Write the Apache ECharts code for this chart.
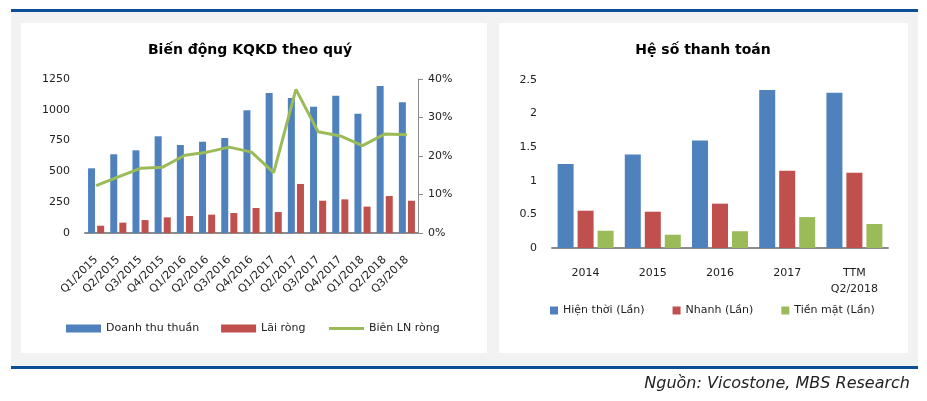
<!DOCTYPE html>
<html><head><meta charset="utf-8">
<script src="https://cdn.jsdelivr.net/npm/echarts@6/dist/echarts.min.js"></script>
<style>html,body{margin:0;padding:0;background:#fff}#c{width:927px;height:401px}</style>
</head><body><div id="c"></div>
<script>
const quarters = ['Q1/2015','Q2/2015','Q3/2015','Q4/2015','Q1/2016','Q2/2016','Q3/2016','Q4/2016','Q1/2017','Q2/2017','Q3/2017','Q4/2017','Q1/2018','Q2/2018','Q3/2018'];
const revenue = [525,639,671,785,714,741,771,996,1136,1096,1025,1115,968,1193,1061];
const netProfit = [59,84,105,127,138,149,162,203,170,398,262,273,214,300,262];
const netMargin = [0.123,0.146,0.168,0.171,0.202,0.210,0.223,0.210,0.157,0.373,0.263,0.252,0.227,0.257,0.255];
const years = ['2014','2015','2016','2017','TTM\nQ2/2018'];
const currentRatio = [1.25,1.39,1.60,2.35,2.31];
const quickRatio = [0.555,0.54,0.66,1.15,1.12];
const cashRatio = [0.257,0.198,0.25,0.46,0.357];
const leftTicks = [0,250,500,750,1000,1250];
const rightTicks = [0,0.1,0.2,0.3,0.4];

const BLUE='#4f81bd', RED='#c0504d', GREEN='#9bbb59', DARK='#0b4f97';
const FONT='DejaVu Sans';
const chart = echarts.init(document.getElementById('c'));
const axisTxt = {color:'#222', fontFamily:FONT, fontSize:11};
const legTxt = {fontFamily:FONT,fontSize:11,color:'#222'};
chart.setOption({
  animation:false,
  textStyle:{fontFamily:FONT},
  graphic:[
    {type:'rect', z:-10, shape:{x:11,y:12,width:907,height:354}, style:{fill:'#f2f2f2'}},
    {type:'rect', z:-9, shape:{x:21,y:23,width:466,height:330}, style:{fill:'#fff'}},
    {type:'rect', z:-9, shape:{x:499,y:23,width:409,height:330}, style:{fill:'#fff'}},
    {type:'rect', z:-8, shape:{x:11,y:9,width:907,height:3}, style:{fill:DARK}},
    {type:'rect', z:-8, shape:{x:11,y:366,width:907,height:3}, style:{fill:DARK}},
    {type:'text', z:5, right:17, top:376, style:{text:'Nguồn: Vicostone, MBS Research', font:'italic 16px "DejaVu Sans"', fill:'#222'}}
  ],
  title:[
    {text:'Biến động KQKD theo quý', left:245, top:38, textAlign:'center', textStyle:{fontFamily:FONT,fontWeight:'bold',fontSize:14,color:'#000'}},
    {text:'Hệ số thanh toán', left:698, top:38, textAlign:'center', textStyle:{fontFamily:FONT,fontWeight:'bold',fontSize:14,color:'#000'}}
  ],
  legend:[
    {left:66, top:323, padding:0, itemWidth:35, itemHeight:8, itemGap:22, textStyle:legTxt,
     data:[{name:'Doanh thu thuần',icon:'rect'},{name:'Lãi ròng',icon:'rect'}]},
    {left:329, top:323, padding:0, itemWidth:35, itemHeight:3, textStyle:legTxt,
     data:[{name:'Biên LN ròng',icon:'rect'}]},
    {left:550, top:305, padding:0, itemWidth:8, itemHeight:8, itemGap:28, textStyle:legTxt,
     data:[{name:'Hiện thời (Lần)',icon:'rect'},{name:'Nhanh (Lần)',icon:'rect'},{name:'Tiền mặt (Lần)',icon:'rect'}]}
  ],
  grid:[
    {left:85, right:509, top:79, bottom:168},
    {left:552, right:39, top:80, bottom:153}
  ],
  xAxis:[
    {type:'category', gridIndex:0, data:quarters, axisTick:{show:false},
     axisLine:{lineStyle:{color:'#8c8c8c',width:2}},
     axisLabel:Object.assign({rotate:45, margin:25, interval:0}, axisTxt)},
    {type:'category', gridIndex:1, data:years, axisTick:{show:false},
     axisLine:{lineStyle:{color:'#8c8c8c',width:2}},
     axisLabel:Object.assign({margin:17, interval:0, lineHeight:16}, axisTxt)}
  ],
  yAxis:[
    {type:'value', gridIndex:0, min:leftTicks[0], max:leftTicks[leftTicks.length-1], interval:250,
     splitLine:{show:false}, axisLine:{show:false}, axisTick:{show:false},
     axisLabel:Object.assign({margin:15, formatter:v=>String(v)}, axisTxt)},
    {type:'value', gridIndex:0, position:'right', min:rightTicks[0], max:rightTicks[rightTicks.length-1], interval:0.1,
     splitLine:{show:false}, axisLine:{show:true, lineStyle:{color:'#8c8c8c',width:1}},
     axisTick:{show:true, length:5, lineStyle:{color:'#8c8c8c'}},
     axisLabel:Object.assign({margin:10, formatter:v=>Math.round(v*100)+'%'}, axisTxt)},
    {type:'value', gridIndex:1, min:0, max:2.5, interval:0.5,
     splitLine:{show:false}, axisLine:{show:false}, axisTick:{show:false},
     axisLabel:Object.assign({margin:15}, axisTxt)}
  ],
  series:[
    {name:'Doanh thu thuần', type:'bar', xAxisIndex:0, yAxisIndex:0, data:revenue, barWidth:7, barGap:'30%', itemStyle:{color:BLUE}},
    {name:'Lãi ròng', type:'bar', xAxisIndex:0, yAxisIndex:0, data:netProfit, barWidth:7, barGap:'30%', itemStyle:{color:RED}},
    {name:'Biên LN ròng', type:'line', xAxisIndex:0, yAxisIndex:1, data:netMargin, symbol:'none', lineStyle:{color:GREEN,width:3}, itemStyle:{color:GREEN}, z:5},
    {name:'Hiện thời (Lần)', type:'bar', xAxisIndex:1, yAxisIndex:2, data:currentRatio, barWidth:16, barGap:'25%', itemStyle:{color:BLUE}},
    {name:'Nhanh (Lần)', type:'bar', xAxisIndex:1, yAxisIndex:2, data:quickRatio, barWidth:16, barGap:'25%', itemStyle:{color:RED}},
    {name:'Tiền mặt (Lần)', type:'bar', xAxisIndex:1, yAxisIndex:2, data:cashRatio, barWidth:16, barGap:'25%', itemStyle:{color:GREEN}}
  ]
});
</script></body></html>
